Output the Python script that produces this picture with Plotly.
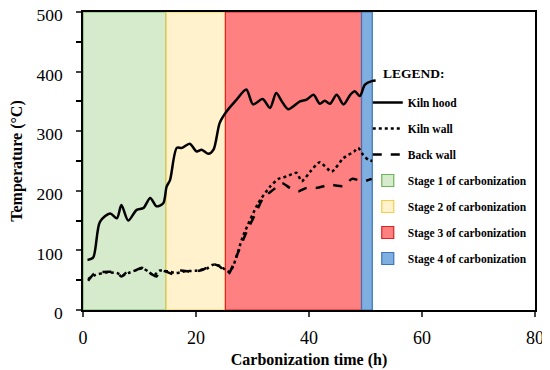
import plotly.graph_objects as go

# ---- data ----
hood_x = [0.8, 1.8, 3.0, 4.8, 6.0, 6.8, 8.0, 9.5, 10.7, 11.9, 13.0, 14.2, 14.8, 15.4, 16.6, 17.5, 18.9, 20.1, 21.0,
          22.2, 23.1, 24.2, 25.4, 27.2, 28.9, 30.1, 31.8, 33.1, 34.2, 35.2, 36.3, 38.4, 39.6, 40.8, 41.9, 42.8,
          43.7, 44.9, 46.1, 47.3, 48.1, 49.0, 49.9, 51.1, 51.8]
hood_y = [84, 88, 148, 162, 154, 176, 150, 168, 171, 188, 174, 179, 207, 218, 272, 272, 279, 266, 269,
          262, 269, 314, 333, 353, 370, 345, 354, 339, 364, 350, 337, 350, 353, 361, 346, 351,
          346, 361, 345, 361, 367, 359, 378, 384, 385]

wall_x = [0.9, 2.0, 4.0, 6.0, 7.0, 8.0, 9.5, 10.5, 11.5, 12.5, 13.5, 15.0, 16.5, 18.0, 20.0, 22.0, 23.0, 24.2,
          26.0, 28.4, 31.0, 33.1, 34.6, 36.0, 37.8, 38.7, 40.2, 41.9, 44.0, 46.1, 48.0, 48.7, 49.6, 50.5, 51.2]
wall_y = [52, 58, 63, 62, 58, 62, 67, 70, 65, 58, 66, 65, 62, 65, 66, 70, 76, 74,
          64, 126, 179, 207, 220, 224, 230, 216, 232, 248, 232, 255, 266, 272, 260, 252, 250]

back_x = [0.9, 2.1, 4.8, 6.0, 6.8, 7.7, 9.2, 10.4, 11.3, 12.2, 13.0, 13.6, 14.8, 16.0, 17.2, 19.5, 21.3, 23.1,
          24.2, 25.7, 26.9, 29.0, 30.7, 31.9, 33.7, 35.2, 36.6, 38.1, 39.6, 41.4, 43.7, 46.1, 47.6, 49.6, 51.1]
back_y = [49, 62, 64, 63, 56, 63, 66, 71, 67, 60, 56, 67, 64, 60, 66, 64, 68, 77,
          73, 60, 84, 132, 165, 188, 202, 213, 205, 199, 205, 205, 210, 208, 220, 216, 220]

stage_names = ["Stage 1 of carbonization", "Stage 2 of carbonization",
               "Stage 3 of carbonization", "Stage 4 of carbonization"]
stage_start = [0.0, 14.7, 25.2, 49.3]
stage_end = [14.7, 25.2, 49.3, 51.2]
stage_top = [500, 500, 500, 500]
stage_fill = ["#D6EACC", "#FFF2CC", "#FF8080", "#7FAEE0"]
stage_edge = ["#6DB35A", "#F2CC4A", "#E02020", "#3B74B8"]

FONT = "Liberation Serif, Times New Roman, DejaVu Serif, serif"

fig = go.Figure()

for i, name in enumerate(stage_names):
    fig.add_trace(go.Bar(
        x=[(stage_start[i] + stage_end[i]) / 2], y=[stage_top[i]], base=[0],
        width=[stage_end[i] - stage_start[i]],
        marker=dict(color=stage_fill[i], line=dict(color=stage_edge[i], width=1.2)),
        name=name, legendgroup=name, legendrank=4 + i, hoverinfo="skip",
    ))

fig.add_trace(go.Scatter(x=hood_x, y=hood_y, mode="lines", name="Kiln hood", legendgroup="a",
                         legendrank=1, line=dict(color="black", width=2.5, shape="spline", smoothing=0.8)))
fig.add_trace(go.Scatter(x=wall_x, y=wall_y, mode="lines", name="Kiln wall", legendgroup="b",
                         legendrank=2, line=dict(color="black", width=2.5, dash="dot", shape="spline", smoothing=0.6)))
fig.add_trace(go.Scatter(x=back_x, y=back_y, mode="lines", name="Back wall", legendgroup="c",
                         legendrank=3, line=dict(color="black", width=2.5, dash="dash", shape="spline", smoothing=0.6)))

# page body has an 8px margin, so the figure is 542x362 and offset by 8px
fig.update_layout(
    width=542, height=362,
    margin=dict(l=75, r=15, t=4, b=60, autoexpand=False),
    paper_bgcolor="white", plot_bgcolor="white",
    barmode="overlay",
    font=dict(family=FONT, color="black"),
    legend=dict(
        x=0.63, y=0.745, xanchor="left", yanchor="top",
        bgcolor="rgba(255,255,255,0)",
        font=dict(family=FONT, size=11.5, weight="bold"),
        tracegroupgap=7,
    ),
    annotations=[dict(
        text="LEGEND:", xref="paper", yref="paper", x=0.659, y=0.795,
        xanchor="left", yanchor="middle", showarrow=False,
        font=dict(family=FONT, size=13.5, weight="bold"),
    )],
)

fig.update_xaxes(
    range=[0, 80], tickvals=[0, 20, 40, 60, 80], ticks="outside", ticklen=5, tickwidth=1.5,
    tickfont=dict(family=FONT, size=18), ticklabelstandoff=6, automargin=False, ticklabeloverflow="allow",
    showline=True, linecolor="black", linewidth=1.5, mirror=True, showgrid=False, zeroline=False,
    title=dict(text="Carbonization time (h)", font=dict(family=FONT, size=16, weight="bold"), standoff=6),
)
fig.update_yaxes(
    range=[0, 500], tickvals=[0, 100, 200, 300, 400, 500], ticks="outside", ticklen=5, tickwidth=1.5,
    minor=dict(tickvals=[50, 150, 250, 350, 450], ticks="outside", ticklen=5, tickwidth=1.5, tickcolor="black"),
    tickfont=dict(family=FONT, size=17.5), ticklabelstandoff=10, ticklabelshift=3,
    automargin=False, ticklabeloverflow="allow",
    showline=True, linecolor="black", linewidth=1.5, mirror=True, showgrid=False, zeroline=False,
    title=dict(text="Temperature (°C)", font=dict(family=FONT, size=16, weight="bold"), standoff=10),
)

fig.write_html("out.html")
